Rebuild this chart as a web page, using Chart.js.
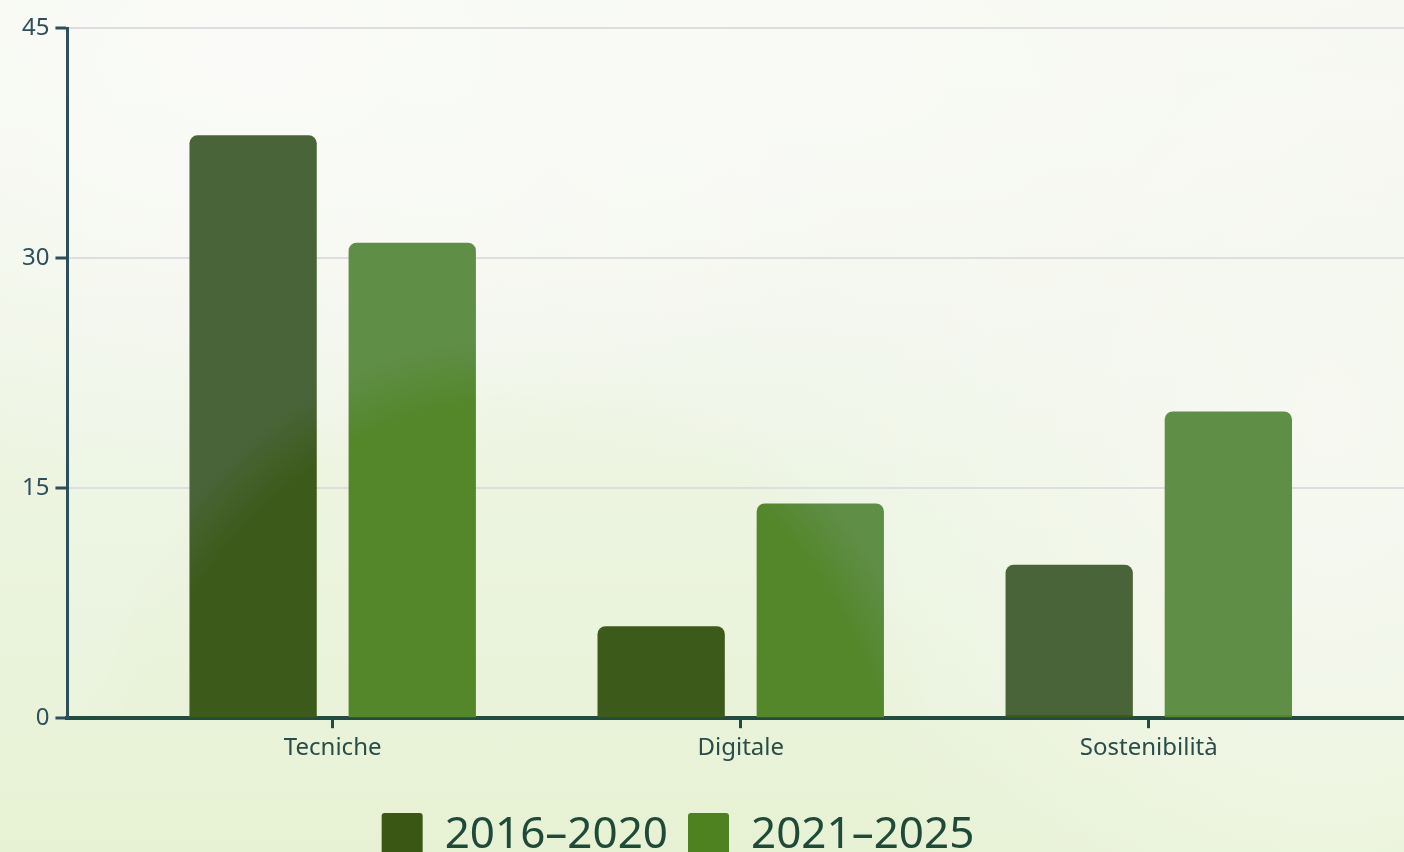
<!DOCTYPE html>
<html>
<head>
<meta charset="utf-8">
<script src="https://cdn.jsdelivr.net/npm/chart.js@4.4.1/dist/chart.umd.min.js"></script>
<style>
  html, body { margin: 0; padding: 0; overflow: hidden; }
  body {
    width: 1404px; height: 852px; position: relative;
    background:
      radial-gradient(ellipse 700px 420px at 250px 60px, rgba(250,251,247,0.95), rgba(250,251,247,0) 100%),
      radial-gradient(ellipse 520px 700px at 1330px 420px, rgba(246,249,240,0.95), rgba(246,249,240,0) 100%),
      radial-gradient(ellipse 700px 400px at 850px 80px, rgba(248,250,244,0.9), rgba(248,250,244,0) 100%),
      linear-gradient(180deg, #f6f8f1 0%, #eef5e4 45%, #e7f2d4 100%);
  }
  #wrap { position: absolute; left: 0; top: 0; width: 1414px; height: 867px; }
  /* velo chiaro sopra le barre, fuori dalla macchia verde in basso */
  #wash {
    position: absolute; left: 70px; top: 0; width: 1334px; height: 715px; pointer-events: none;
    mix-blend-mode: screen;
    background: radial-gradient(ellipse 450px 540px at 440px 880px, rgba(18,14,34,0) 88%, rgba(18,14,34,1) 100%);
  }
</style>
</head>
<body>
<div id="wrap"><canvas id="skillsChart"></canvas></div>
<div id="wash"></div>
<script>
// dati
var categories = ["Tecniche", "Digitale", "Sostenibilità"];
var seriesNames = ["2016–2020", "2021–2025"];
var values2016 = [38, 6, 10];
var values2021 = [31, 14, 20];
var yTicks = [0, 15, 30, 45];

var barColors = ["#3c5b1a", "#53872a"];
var legendColors = ["#3a5714", "#4e8221"];

function toPoints(arr) {
    return arr.map(function (v, i) { return { x: i, y: v }; });
}

// sposta la legenda verso sinistra come nell'originale
var legendShift = {
    id: "legendShift",
    afterLayout: function (chart) {
        chart.legend.left -= 37;
        chart.legend.right -= 37;
    }
};

var ctx = document.getElementById("skillsChart").getContext("2d");

new Chart(ctx, {
    type: "bar",
    data: {
        datasets: [
            {
                label: seriesNames[0],
                data: toPoints(values2016),
                backgroundColor: barColors[0],
                borderRadius: { topLeft: 8, topRight: 8 },
                borderSkipped: "bottom"
            },
            {
                label: seriesNames[1],
                data: toPoints(values2021),
                backgroundColor: barColors[1],
                borderRadius: { topLeft: 8, topRight: 8 },
                borderSkipped: "bottom"
            }
        ]
    },
    plugins: [legendShift],
    options: {
        responsive: true,
        maintainAspectRatio: false,
        animation: false,
        categoryPercentage: 0.78,
        barPercentage: 0.8,
        layout: { padding: { left: 16, top: 28, right: 0, bottom: 0 } },
        scales: {
            x: {
                type: "linear",
                min: -0.65,
                max: 2.65,
                offset: false,
                afterBuildTicks: function (scale) {
                    scale.ticks = categories.map(function (c, i) { return { value: i }; });
                },
                afterFit: function (scale) { scale.height += 24; },
                ticks: {
                    includeBounds: false,
                    autoSkip: false,
                    maxRotation: 0,
                    padding: 6,
                    color: "#2a4d4a",
                    font: { family: "'Noto Sans'", size: 24 },
                    callback: function (v) { return categories[v] !== undefined ? categories[v] : ""; }
                },
                grid: {
                    display: true,
                    offset: false,
                    drawOnChartArea: false,
                    drawTicks: true,
                    tickLength: 10,
                    tickWidth: 3,
                    tickColor: "#234c40"
                },
                border: { display: true, color: "#234c40", width: 4 }
            },
            y: {
                min: 0,
                max: 45,
                afterBuildTicks: function (scale) {
                    scale.ticks = yTicks.map(function (v) { return { value: v }; });
                },
                ticks: {
                    padding: 6,
                    color: "#2f4f5c",
                    font: { family: "'Noto Sans'", size: 24 }
                },
                grid: {
                    color: "#dcdcdc",
                    lineWidth: 2,
                    tickLength: 12,
                    tickWidth: 3,
                    tickColor: "#2c4f5a"
                },
                border: { display: true, color: "#2c4f5a", width: 3 }
            }
        },
        plugins: {
            legend: {
                position: "bottom",
                labels: {
                    color: "#1f4a38",
                    font: { family: "'Noto Sans'", size: 44 },
                    boxWidth: 41,
                    boxHeight: 44,
                    padding: 20,
                    useBorderRadius: true,
                    borderRadius: 3,
                    generateLabels: function (chart) {
                        return chart.data.datasets.map(function (ds, i) {
                            return {
                                text: ds.label,
                                fillStyle: legendColors[i],
                                strokeStyle: legendColors[i],
                                lineWidth: 0,
                                fontColor: "#1f4a38",
                                borderRadius: 3,
                                datasetIndex: i,
                                hidden: false
                            };
                        });
                    }
                }
            },
            tooltip: { enabled: false }
        }
    }
});
</script>
</body>
</html>
